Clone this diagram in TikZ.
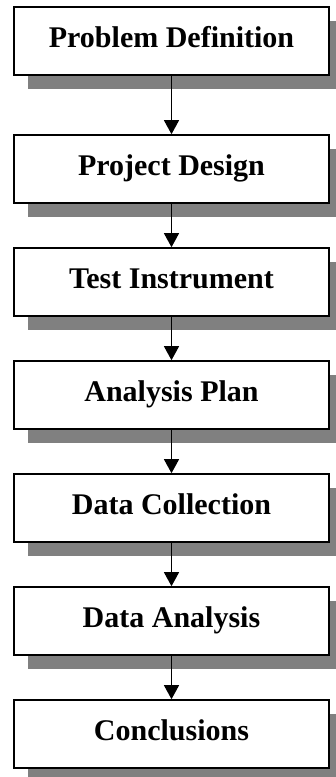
\documentclass[tikz,border=0pt]{standalone}
\usepackage{fontspec}
\setmainfont{Liberation Serif}
\usetikzlibrary{arrows.meta,shadows}
\definecolor{shadowgray}{RGB}{128,128,128}
\tikzset{
  stagebox/.style={draw, line width=1.6pt, fill=white, inner sep=0pt,
    minimum width=315pt, text height=40pt, text depth=28pt, anchor=base,
    font=\fontsize{30}{34}\selectfont\bfseries,
    general shadow={fill=shadowgray, draw=none, shadow xshift=14pt, shadow yshift=-14pt}},
  flow/.style={line width=1.2pt, -{Triangle[width=15pt,length=14pt]}}
}
\begin{document}
\begin{tikzpicture}[x=1pt,y=-1pt]
\useasboundingbox (0,0) rectangle (335,777);

% Stages of the study
\foreach \name/\y/\txt in {def/47/Problem Definition, design/175/Project Design,
    instr/288/Test Instrument, plan/401/Analysis Plan, collect/514/Data Collection,
    analysis/627/Data Analysis, concl/740/Conclusions} {
    \node[stagebox] (\name) at (171.5,\y) {\txt};
}

% Arrows between stages
\foreach \a/\b in {def/design, design/instr, instr/plan, plan/collect,
    collect/analysis, analysis/concl} {
    \draw[flow] (\a.south) -- (\b.north);
}

\end{tikzpicture}
\end{document}
